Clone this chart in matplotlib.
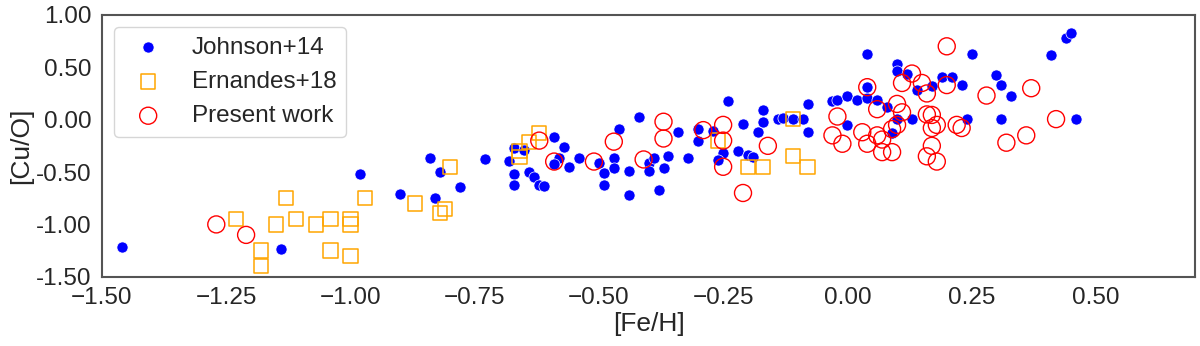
import matplotlib
matplotlib.use("Agg")
import matplotlib.pyplot as plt
import numpy as np
import seaborn as sns
from matplotlib.ticker import FormatStrFormatter

# Johnson+14
johnson_feh = [-1.46, -1.14, -0.98, -0.90, -0.84, -0.83, -0.82, -0.78, -0.73, -0.68,
               -0.67, -0.65, -0.67, -0.67, -0.64, -0.63, -0.62, -0.61, -0.59, -0.57,
               -0.58, -0.59, -0.56, -0.54, -0.50, -0.49, -0.49, -0.47, -0.47, -0.46,
               -0.44, -0.44, -0.42, -0.40, -0.40, -0.39, -0.38, -0.37, -0.36, -0.34,
               -0.32, -0.30, -0.30, -0.27, -0.25, -0.26, -0.24, -0.22, -0.21, -0.20,
               -0.19, -0.18, -0.17, -0.17, -0.14, -0.13, -0.11, -0.09, -0.08, -0.08,
               -0.03, -0.02, 0.00, 0.00, 0.02, 0.04, 0.04, 0.04, 0.06, 0.08,
               0.10, 0.10, 0.12, 0.10, 0.09, 0.13, 0.14, 0.17, 0.19, 0.21,
               0.23, 0.24, 0.25, 0.30, 0.31, 0.33, 0.31, 0.41, 0.44, 0.45, 0.46]
johnson_cuo = [-1.22, -1.23, -0.52, -0.71, -0.37, -0.75, -0.50, -0.64, -0.38, -0.39,
               -0.27, -0.29, -0.52, -0.62, -0.50, -0.55, -0.62, -0.63, -0.17, -0.26,
               -0.37, -0.42, -0.45, -0.37, -0.41, -0.51, -0.62, -0.37, -0.46, -0.09,
               -0.49, -0.72, 0.03, -0.415, -0.49, -0.37, -0.67, -0.46, -0.35, -0.12,
               -0.37, -0.09, -0.20, -0.11, -0.32, -0.385, 0.18, -0.30, -0.04, -0.34,
               -0.36, -0.12, 0.09, -0.02, 0.005, 0.02, 0.005, 0.005, 0.15, -0.12,
               0.175, 0.19, 0.23, -0.05, 0.19, 0.21, 0.31, 0.63, 0.19, 0.12,
               0.53, 0.46, 0.44, 0.005, -0.125, 0.005, 0.28, 0.325, 0.41, 0.41,
               0.33, 0.005, 0.63, 0.43, 0.33, 0.23, 0.005, 0.62, 0.78, 0.83, 0.005]

# Ernandes+18
ernandes_feh = [-1.23, -1.18, -1.18, -1.15, -1.13, -1.11, -1.07, -1.04, -1.04, -1.00,
                -1.00, -1.00, -0.97, -0.87, -0.82, -0.81, -0.80, -0.66, -0.66, -0.64,
                -0.62, -0.26, -0.20, -0.17, -0.11, -0.11, -0.08]
ernandes_cuo = [-0.95, -1.25, -1.40, -1.00, -0.75, -0.95, -1.00, -0.95, -1.25, -0.95,
                -1.00, -1.30, -0.75, -0.80, -0.89, -0.85, -0.45, -0.30, -0.36, -0.21,
                -0.13, -0.20, -0.45, -0.45, 0.005, -0.35, -0.45]

# present work
present_feh = [-1.27, -1.21, -0.62, -0.59, -0.51, -0.47, -0.41, -0.37, -0.37, -0.29,
               -0.25, -0.25, -0.25, -0.21, -0.16, -0.02, -0.03, -0.01, 0.03, 0.04,
               0.04, 0.06, 0.06, 0.07, 0.07, 0.09, 0.09, 0.10, 0.10, 0.11,
               0.11, 0.13, 0.15, 0.16, 0.16, 0.17, 0.18, 0.17, 0.17, 0.16,
               0.18, 0.20, 0.20, 0.22, 0.23, 0.28, 0.32, 0.36, 0.37, 0.42]
present_cuo = [-1.00, -1.10, -0.20, -0.40, -0.40, -0.21, -0.38, -0.02, -0.18, -0.10,
               -0.05, -0.20, -0.45, -0.70, -0.25, 0.03, -0.15, -0.23, -0.12, 0.31,
               -0.23, 0.10, -0.15, -0.19, -0.31, -0.31, -0.09, 0.15, -0.05, 0.07,
               0.35, 0.44, 0.35, 0.25, 0.05, 0.045, -0.05, -0.08, -0.25, -0.35,
               -0.40, 0.33, 0.70, -0.05, -0.08, 0.23, -0.22, -0.15, 0.30, 0.005]

sns.set_style("white")
plt.rcParams["font.family"] = ["Liberation Sans", "DejaVu Sans"]

fig = plt.figure(figsize=(12, 3.46), dpi=100)
ax = fig.add_axes([0.085, 0.2, 0.911, 0.757])

ax.scatter(johnson_feh, johnson_cuo, s=64, color="blue", edgecolors="white",
           linewidths=0.5, label="Johnson+14", zorder=2)
ax.scatter(ernandes_feh, ernandes_cuo, s=105, marker="s", facecolors="none",
           edgecolors="orange", linewidths=1.1, label="Ernandes+18", zorder=3)
ax.scatter(present_feh, present_cuo, s=150, marker="o", facecolors="none",
           edgecolors="red", linewidths=1.0, label="Present work", zorder=4)

ax.set_xlim(-1.5, 0.7)
ax.set_ylim(-1.5, 1.0)
ax.set_xticks(np.arange(-1.5, 0.51, 0.25))
ax.set_yticks(np.arange(-1.5, 1.01, 0.5))
ax.yaxis.set_major_formatter(FormatStrFormatter("%.2f"))
ax.tick_params(axis="both", labelsize=17.5, pad=4)

for sp in ax.spines.values():
    sp.set_color("0.33")
    sp.set_linewidth(1.5)

ax.set_xlabel("[Fe/H]", fontsize=19, labelpad=2)
ax.set_ylabel("[Cu/O]", fontsize=19, labelpad=2)

ax.legend(loc="upper left", fontsize=17.5)

fig.savefig("out.png", dpi=100)
